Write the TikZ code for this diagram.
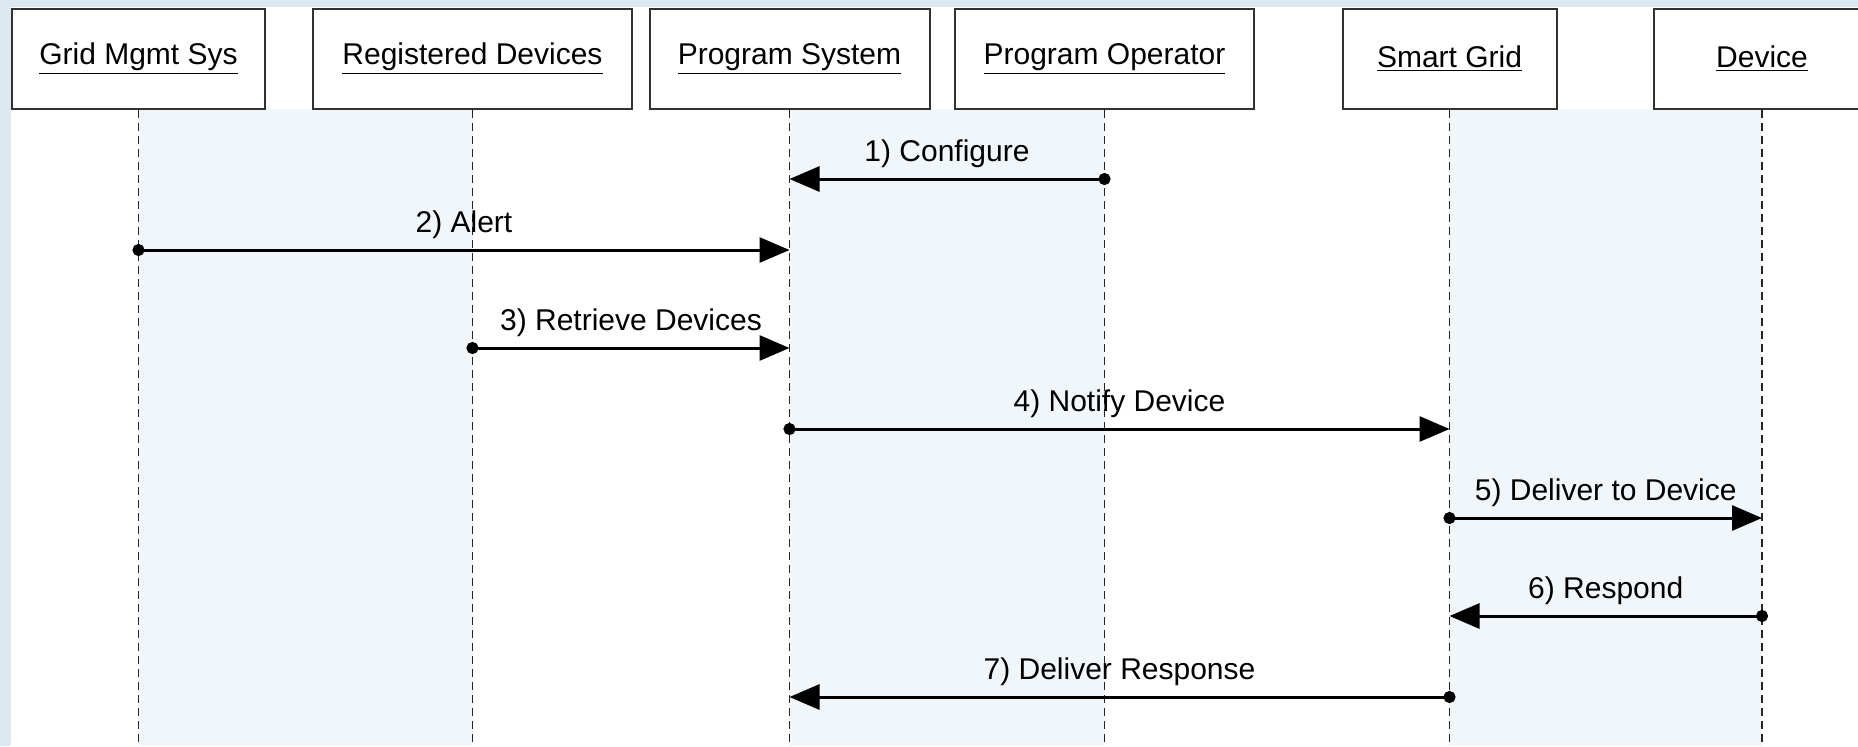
\documentclass[tikz,border=0pt]{standalone}
\usepackage{fontspec}
\setmainfont{Liberation Sans}
\usetikzlibrary{arrows.meta,positioning}
\definecolor{bgblue}{RGB}{221,233,240}
\definecolor{bandblue}{RGB}{240,246,249}
\definecolor{boxline}{RGB}{50,50,50}
\tikzset{
  actor/.style={draw=boxline,line width=1pt,fill=white,minimum height=50pt,
    inner sep=0pt,font=\fontsize{15}{18}\selectfont},
  lifeline/.style={draw=black!85,line width=0.7pt,dash pattern=on 4pt off 2.5pt},
  msg/.style={line width=1.5pt,shorten <=-3pt,
    {Circle[length=6pt]}-{Triangle[length=15pt,width=12.5pt]}},
  msglabel/.style={above=4.8pt,inner sep=0pt,font=\fontsize{15}{18}\selectfont},
}
\begin{document}
\begin{tikzpicture}[x=0.5pt,y=-0.5pt]
  \path[use as bounding box,clip] (0,0) rectangle (1858,746);
  \fill[bgblue] (0,0) rectangle (1858,746);
  \fill[white] (11,7) rectangle (1858,746);
  % pale bands
  \fill[bandblue] (139,109) rectangle (473,746);
  \fill[bandblue] (790,109) rectangle (1104,746);
  \fill[bandblue] (1449,109) rectangle (1762,746);
  \coordinate (bottom) at (0,746);
  % actors
  \node[actor,minimum width=126.5pt] (gms) at (138.5,59) {\underline{Grid Mgmt Sys}};
  \node[actor,minimum width=159.5pt] (reg) at (472.5,59) {\underline{Registered Devices}};
  \node[actor,minimum width=140pt] (ps) at (789.5,59) {\underline{Program System}};
  \node[actor,minimum width=149.5pt] (po) at (1104.5,59) {\underline{Program Operator}};
  \node[actor,minimum width=107pt] (sg) at (1449.5,59) {\underline{Smart Grid}};
  \node[actor,minimum width=108pt] (dev) at (1762,59) {\underline{Device}};
  \foreach \a in {gms,reg,ps,po,sg,dev}
    \draw[lifeline] (\a.south) -- (\a.south |- bottom);
  % messages
  \coordinate (m1) at (0,179);
  \coordinate (m2) at (0,250);
  \coordinate (m3) at (0,348);
  \coordinate (m4) at (0,429);
  \coordinate (m5) at (0,518);
  \coordinate (m6) at (0,616);
  \coordinate (m7) at (0,697);
  \draw[msg] (po |- m1) -- node[msglabel] {1) Configure} (ps |- m1);
  \draw[msg] (gms |- m2) -- node[msglabel] {2) Alert} (ps |- m2);
  \draw[msg] (reg |- m3) -- node[msglabel] {3) Retrieve Devices} (ps |- m3);
  \draw[msg] (ps |- m4) -- node[msglabel] {4) Notify Device} (sg |- m4);
  \draw[msg] (sg |- m5) -- node[msglabel] {5) Deliver to Device} (dev |- m5);
  \draw[msg] (dev |- m6) -- node[msglabel] {6) Respond} (sg |- m6);
  \draw[msg] (sg |- m7) -- node[msglabel] {7) Deliver Response} (ps |- m7);
\end{tikzpicture}
\end{document}
